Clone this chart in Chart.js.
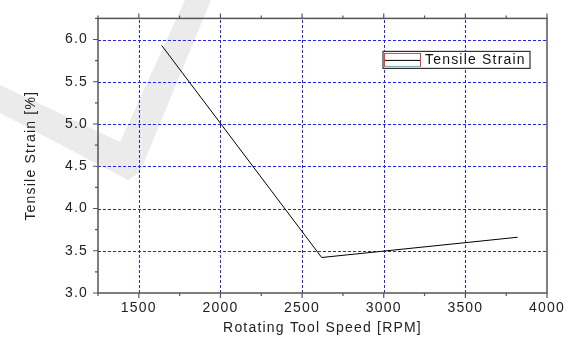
<!DOCTYPE html>
<html>
<head>
<meta charset="utf-8">
<script src="https://cdn.jsdelivr.net/npm/chart.js@4/dist/chart.umd.min.js"></script>
<style>
  html, body { margin: 0; padding: 0; background: #fff; }
  #wrap { width: 570px; height: 338px; }
</style>
</head>
<body>
<div id="wrap"><canvas id="chart" width="570" height="338"></canvas></div>
<script>
// datos
const speeds = [1640, 2620, 3820];
const strain = [5.93, 3.42, 3.66];
const serieNombre = 'Tensile Strain';
const xTitulo = 'Rotating Tool Speed [RPM]';
const yTitulo = 'Tensile Strain [%]';

const fuente = '"Liberation Sans", Arial, sans-serif';
const esMedio = v => Math.abs(v * 2 - Math.round(v * 2)) < 1e-6;

// marca de agua gris (la "V" del fondo) + espaciado de letras
const marcaAgua = {
  id: 'marcaAgua',
  beforeDraw(chart) {
    const c = chart.ctx;
    c.save();
    c.fillStyle = '#ebebeb';
    c.beginPath();
    c.moveTo(0, 85);
    c.lineTo(120, 142);
    c.lineTo(185, 0);
    c.lineTo(211, 0);
    c.lineTo(140, 172);
    c.lineTo(128, 180);
    c.lineTo(0, 113);
    c.closePath();
    c.fill();
    c.restore();
    c.letterSpacing = '1.2px';
  }
};

// rejilla punteada azul solo en las marcas principales
const rejilla = {
  id: 'rejilla',
  beforeDatasetsDraw(chart) {
    const c = chart.ctx;
    const a = chart.chartArea;
    const sx = chart.scales.x;
    const sy = chart.scales.y;
    c.save();
    c.strokeStyle = '#2222ff';
    c.lineWidth = 1;
    c.setLineDash([3, 2]);
    sx.ticks.forEach(t => {
      if (t.value % 500 !== 0 || t.value === sx.max) return;
      const px = Math.round(sx.getPixelForValue(t.value)) + 0.5;
      c.beginPath();
      c.moveTo(px, a.bottom);
      c.lineTo(px, a.top);
      c.stroke();
    });
    sy.ticks.forEach(t => {
      if (!esMedio(t.value) || t.value === sy.min) return;
      const py = Math.round(sy.getPixelForValue(t.value)) + 0.5;
      c.beginPath();
      c.moveTo(a.left, py);
      c.lineTo(a.right, py);
      c.stroke();
    });
    c.restore();
  }
};

// marco, marcas de ejes y leyenda
const marco = {
  id: 'marco',
  afterDraw(chart) {
    const c = chart.ctx;
    const a = chart.chartArea;
    const sx = chart.scales.x;
    const sy = chart.scales.y;
    c.save();
    c.strokeStyle = '#555';
    c.lineWidth = 1.5;
    c.strokeRect(a.left, a.top, a.right - a.left, a.bottom - a.top);

    c.lineWidth = 1.2;
    c.beginPath();
    sx.ticks.forEach(t => {
      const px = sx.getPixelForValue(t.value);
      const len = t.value % 500 === 0 ? 5 : 3;
      c.moveTo(px, a.bottom);
      c.lineTo(px, a.bottom + len);
      c.moveTo(px, a.top);
      c.lineTo(px, a.top - len);
    });
    sy.ticks.forEach(t => {
      const py = sy.getPixelForValue(t.value);
      const len = esMedio(t.value) ? 5 : 3;
      c.moveTo(a.left, py);
      c.lineTo(a.left - len, py);
    });
    c.stroke();

    // leyenda
    const lx = a.left + 285, ly = a.top + 33, lw = 147, lh = 17;
    c.fillStyle = '#fff';
    c.fillRect(lx, ly, lw, lh);
    c.strokeStyle = '#333';
    c.lineWidth = 1.2;
    c.strokeRect(lx, ly, lw, lh);
    c.strokeStyle = '#ff3333';
    c.lineWidth = 1;
    c.strokeRect(lx + 1.5, ly + 2, 36, 13);
    c.strokeStyle = '#33ffff';
    c.beginPath();
    c.moveTo(lx + 2, ly + 15.5);
    c.lineTo(lx + 37, ly + 15.5);
    c.stroke();
    c.strokeStyle = '#000';
    c.beginPath();
    c.moveTo(lx + 2, ly + 9);
    c.lineTo(lx + 37, ly + 9);
    c.stroke();
    c.fillStyle = '#111';
    c.font = '14px ' + fuente;
    c.letterSpacing = '1.2px';
    c.textBaseline = 'middle';
    c.fillText(chart.data.datasets[0].label, lx + 42, ly + lh / 2 + 0.5);
    c.restore();
  }
};

const ctx = document.getElementById('chart').getContext('2d');
const grafico = new Chart(ctx, {
  type: 'line',
  data: {
    datasets: [{
      label: serieNombre,
      data: speeds.map((s, i) => ({ x: s, y: strain[i] })),
      borderColor: '#000',
      borderWidth: 1,
      pointRadius: 0,
      tension: 0,
      fill: false
    }]
  },
  options: {
    responsive: false,
    animation: false,
    layout: { padding: { left: 0, top: 15, right: 23, bottom: 0 } },
    plugins: {
      legend: { display: false },
      tooltip: { enabled: false }
    },
    scales: {
      x: {
        type: 'linear',
        min: 1250,
        max: 4000,
        afterFit: s => { s.height = 45; },
        ticks: {
          stepSize: 250,
          autoSkip: false,
          maxRotation: 0,
          padding: 7,
          color: '#222',
          font: { family: fuente, size: 14 },
          callback: v => (v % 500 === 0 ? String(v) : '')
        },
        grid: { display: false, drawTicks: false },
        border: { display: false },
        title: {
          display: true,
          text: xTitulo,
          color: '#222',
          font: { family: fuente, size: 14 },
          padding: { top: 0, bottom: 1 }
        }
      },
      y: {
        type: 'linear',
        min: 3,
        max: 6.25,
        afterFit: s => { s.width = 98; },
        ticks: {
          stepSize: 0.25,
          autoSkip: false,
          padding: 10,
          color: '#222',
          font: { family: fuente, size: 14 },
          callback: v => (esMedio(v) ? v.toFixed(1) : '')
        },
        grid: { display: false, drawTicks: false },
        border: { display: false },
        title: {
          display: true,
          text: yTitulo,
          color: '#222',
          font: { family: fuente, size: 14 },
          padding: { top: 23, bottom: 0 }
        }
      }
    }
  },
  plugins: [marcaAgua, rejilla, marco]
});
</script>
</body>
</html>
